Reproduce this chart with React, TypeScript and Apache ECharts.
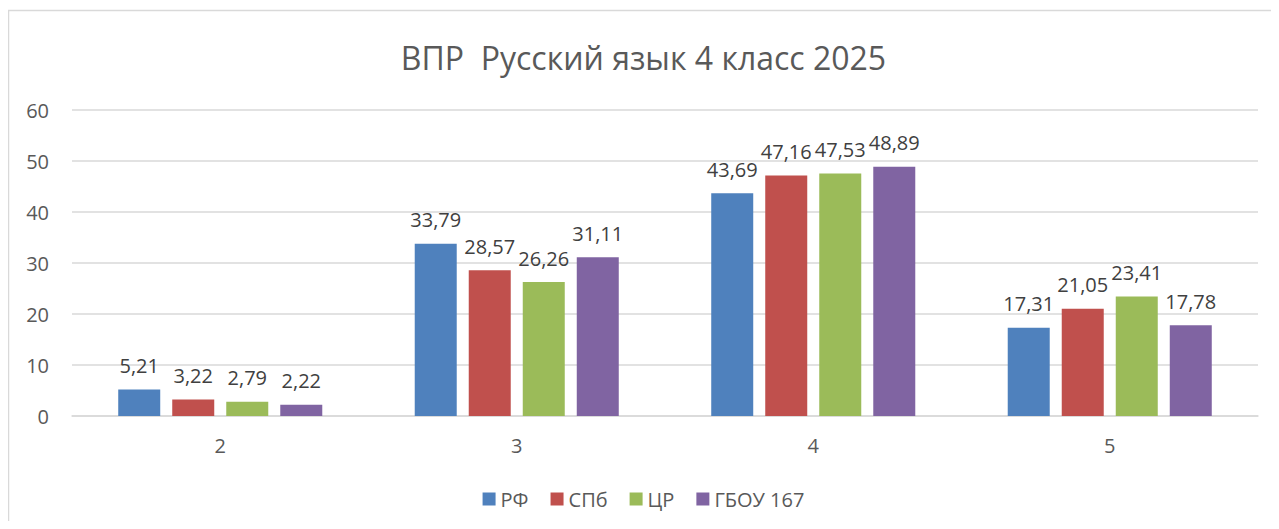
import React, { useEffect, useRef } from "react";
import * as echarts from "echarts";

const title = "ВПР  Русский язык 4 класс 2025";
const categories = ["2", "3", "4", "5"];
const seriesNames = ["РФ", "СПб", "ЦР", "ГБОУ 167"];
const rf = [5.21, 33.79, 43.69, 17.31];
const spb = [3.22, 28.57, 47.16, 21.05];
const cr = [2.79, 26.26, 47.53, 23.41];
const gbou = [2.22, 31.11, 48.89, 17.78];
const colors = ["#4F81BD", "#C0504D", "#9BBB59", "#8064A2"];
const yMin = 0;
const yMax = 60;
const yStep = 10;

const FONT = "'Open Sans', 'Noto Sans', sans-serif";

export default function App() {
  const ref = useRef<HTMLDivElement>(null);
  useEffect(() => {
    if (!ref.current) return;
    const chart = echarts.init(ref.current, undefined, { renderer: "svg" });
    const data = [rf, spb, cr, gbou];
    chart.setOption({
      animation: false,
      textStyle: { fontFamily: FONT },
      title: {
        text: title,
        left: "center",
        top: 28,
        textStyle: { fontSize: 32, fontWeight: "normal", color: "#595959", fontFamily: FONT },
      },
      legend: {
        bottom: 7,
        left: "center",
        itemWidth: 13,
        itemHeight: 13,
        itemGap: 22,
        icon: "rect",
        textStyle: { fontSize: 20, color: "#595959", fontFamily: FONT },
        data: seriesNames,
      },
      grid: { left: 64, right: 21, top: 102, bottom: 105, containLabel: false },
      xAxis: {
        type: "category",
        data: categories,
        axisLine: { lineStyle: { color: "#d9d9d9", width: 1.5 } },
        axisTick: { show: false },
        axisLabel: { fontSize: 20, color: "#595959", margin: 19, fontFamily: FONT },
      },
      yAxis: {
        type: "value",
        min: yMin,
        max: yMax,
        interval: yStep,
        axisLine: { show: false },
        axisTick: { show: false },
        splitLine: { lineStyle: { color: "#d9d9d9", width: 1.5 } },
        axisLabel: { fontSize: 20, color: "#595959", margin: 23, fontFamily: FONT },
      },
      graphic: [
        {
          type: "rect",
          shape: { x: 0.5, y: 2.5, width: 1300, height: 600 },
          style: { fill: "none", stroke: "#d9d9d9", lineWidth: 1.5 },
          silent: true,
          z: -1,
        },
      ],
      series: seriesNames.map((name, i) => ({
        name,
        type: "bar",
        data: data[i],
        barWidth: 42,
        barGap: "28.6%",
        itemStyle: { color: colors[i] },
        label: {
          show: true,
          position: "top",
          distance: 14,
          fontSize: 20,
          color: "#404040",
          fontFamily: FONT,
          formatter: (p: any) => String(p.value.toFixed(2)).replace(".", ","),
        },
      })),
    });
    return () => chart.dispose();
  }, []);
  return <div ref={ref} style={{ width: 1271, height: 513 }} />;
}
